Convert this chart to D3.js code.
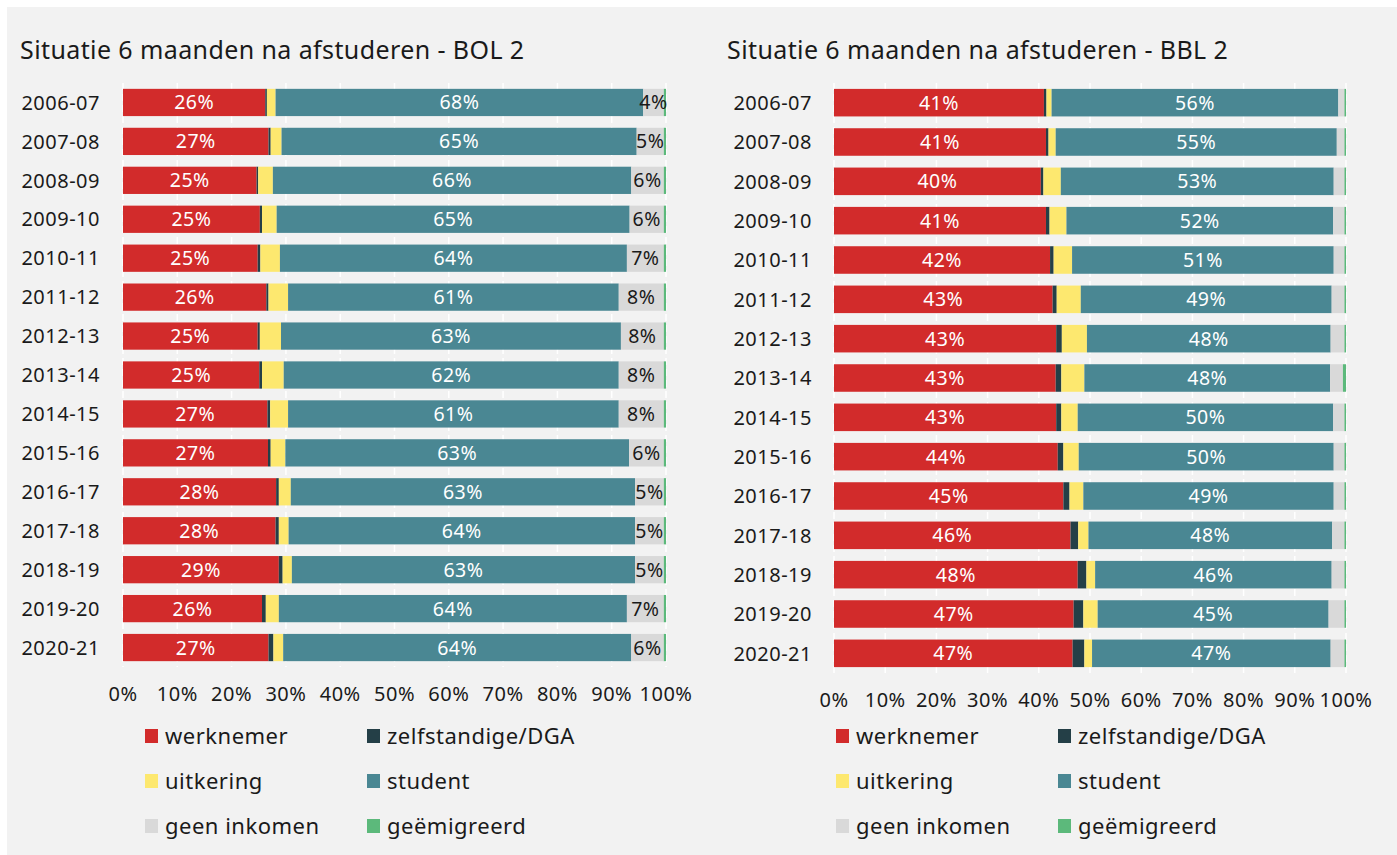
<!DOCTYPE html>
<html>
<head>
<meta charset="utf-8">
<script src="https://cdn.jsdelivr.net/npm/d3@7"></script>
<style>
  html, body { margin: 0; padding: 0; background: #ffffff; }
  svg { display: block; font-family: "Noto Sans", "Lato", sans-serif; letter-spacing: 0.5px; }
</style>
</head>
<body>
<svg id="chart"></svg>
<script>
// categories and series
const YEARS = ["2006-07", "2007-08", "2008-09", "2009-10", "2010-11", "2011-12", "2012-13", "2013-14",
  "2014-15", "2015-16", "2016-17", "2017-18", "2018-19", "2019-20", "2020-21"];
const SERIES = ["werknemer", "zelfstandige/DGA", "uitkering", "student", "geen inkomen", "geëmigreerd"];
const X_TICKS = [0, 10, 20, 30, 40, 50, 60, 70, 80, 90, 100];

// BOL 2 (%)
const BOL_WERKNEMER = [26.2, 26.8, 24.6, 25.2, 24.8, 26.4, 24.8, 25.1, 26.6, 26.7, 28.2, 28.1, 28.7, 25.6, 26.8];
const BOL_ZELFSTANDIGE = [0.3, 0.4, 0.3, 0.4, 0.5, 0.4, 0.4, 0.5, 0.5, 0.5, 0.5, 0.6, 0.7, 0.7, 0.9];
const BOL_UITKERING = [1.6, 2.0, 2.7, 2.7, 3.6, 3.6, 3.9, 4.0, 3.3, 2.7, 2.2, 1.8, 1.7, 2.4, 1.8];
const BOL_STUDENT = [67.7, 65.4, 66.0, 65.0, 63.9, 60.9, 62.6, 61.7, 60.9, 63.3, 63.4, 63.8, 63.2, 64.1, 64.1];
const BOL_GEEN_INKOMEN = [3.8, 5.0, 6.0, 6.3, 6.8, 8.3, 7.9, 8.3, 8.3, 6.4, 5.3, 5.3, 5.3, 6.8, 6.0];
const BOL_GEEMIGREERD = [0.4, 0.4, 0.4, 0.4, 0.4, 0.4, 0.4, 0.4, 0.4, 0.4, 0.4, 0.4, 0.4, 0.4, 0.4];

// BBL 2 (%)
const BBL_WERKNEMER = [41.0, 41.4, 40.4, 41.4, 42.2, 42.7, 43.4, 43.3, 43.4, 43.7, 44.8, 46.2, 47.6, 46.8, 46.6];
const BBL_ZELFSTANDIGE = [0.5, 0.5, 0.5, 0.7, 0.7, 0.8, 1.1, 1.1, 1.0, 1.1, 1.2, 1.5, 1.7, 1.9, 2.3];
const BBL_UITKERING = [1.0, 1.4, 3.4, 3.3, 3.6, 4.7, 4.9, 4.5, 3.2, 3.0, 2.7, 2.0, 1.7, 2.8, 1.5];
const BBL_STUDENT = [56.0, 54.9, 53.3, 52.1, 51.1, 49.0, 47.6, 48.0, 49.9, 49.8, 48.9, 47.6, 46.2, 45.1, 46.6];
const BBL_GEEN_INKOMEN = [1.2, 1.5, 2.1, 2.2, 2.1, 2.5, 2.7, 2.5, 2.2, 2.1, 2.1, 2.4, 2.5, 3.1, 2.7];
const BBL_GEEMIGREERD = [0.3, 0.3, 0.3, 0.3, 0.3, 0.3, 0.3, 0.6, 0.3, 0.3, 0.3, 0.3, 0.3, 0.3, 0.3];

const PALETTE = ["#d22b2b", "#243f47", "#fde86f", "#4a8793", "#d9d9d9", "#5cb97b"];
const LABELLED = ["werknemer", "student", "geen inkomen"];

function buildRows(columns) {
  return YEARS.map((year, i) => {
    const row = { year };
    SERIES.forEach((s, j) => (row[s] = columns[j][i]));
    return row;
  });
}

class StackedBarChart {
  constructor(svg, data, layout) {
    this.svg = svg;
    this.data = data;
    this.layout = layout;
    this.render();
  }
  render() {
    const { title, titleX, plot, tickY, catX, legend } = this.layout;
    const g = this.svg.append("g");

    const xScale = d3.scaleLinear().domain([0, 100]).range([plot.left, plot.right]);
    const yScale = d3
      .scaleBand()
      .domain(YEARS)
      .range([plot.top, plot.bottom])
      .paddingInner(0.3)
      .paddingOuter(0.15);
    const cScale = d3.scaleOrdinal().domain(SERIES).range(PALETTE);

    // title
    g.append("text")
      .attr("x", titleX)
      .attr("y", 59)
      .attr("font-size", 25)
      .attr("letter-spacing", 0.4)
      .attr("fill", "#1a1a1a")
      .text(title);

    // gridlines
    g.append("g")
      .selectAll("line")
      .data(X_TICKS)
      .join("line")
      .attr("x1", (d) => xScale(d))
      .attr("x2", (d) => xScale(d))
      .attr("y1", plot.top)
      .attr("y2", plot.bottom)
      .attr("stroke", "#ffffff")
      .attr("stroke-width", 1.5)
      .attr("stroke-dasharray", "7,4");

    // stacked bars
    const stacked = d3.stack().keys(SERIES)(this.data);
    const layers = g
      .append("g")
      .selectAll("g")
      .data(stacked)
      .join("g")
      .attr("fill", (d) => cScale(d.key));
    layers
      .selectAll("rect")
      .data((d) => d)
      .join("rect")
      .attr("x", (d) => xScale(d[0]))
      .attr("y", (d) => yScale(d.data.year))
      .attr("width", (d) => xScale(d[1]) - xScale(d[0]))
      .attr("height", yScale.bandwidth());

    // value labels
    const fmt = d3.format(".0f");
    stacked
      .filter((layer) => LABELLED.includes(layer.key))
      .forEach((layer) => {
        g.append("g")
          .selectAll("text")
          .data(layer.filter((d) => d[1] - d[0] >= 3.5))
          .join("text")
          .attr("x", (d) => xScale((d[0] + d[1]) / 2))
          .attr("y", (d) => yScale(d.data.year) + yScale.bandwidth() / 2)
          .attr("dy", "0.36em")
          .attr("text-anchor", "middle")
          .attr("font-size", 19.5)
          .attr("fill", layer.key === "geen inkomen" ? "#1a1a1a" : "#ffffff")
          .text((d) => fmt(d[1] - d[0]) + "%");
      });

    // category labels
    g.append("g")
      .selectAll("text")
      .data(YEARS)
      .join("text")
      .attr("x", catX)
      .attr("y", (d) => yScale(d) + yScale.bandwidth() / 2)
      .attr("dy", "0.36em")
      .attr("text-anchor", "end")
      .attr("font-size", 20)
      .attr("fill", "#1a1a1a")
      .text((d) => d);

    // x tick labels
    g.append("g")
      .selectAll("text")
      .data(X_TICKS)
      .join("text")
      .attr("x", (d) => xScale(d))
      .attr("y", tickY)
      .attr("text-anchor", "middle")
      .attr("font-size", 20)
      .attr("fill", "#1a1a1a")
      .text((d) => d + "%");

    // legend
    const items = g
      .append("g")
      .selectAll("g")
      .data(SERIES)
      .join("g")
      .attr("transform", (d, i) => `translate(${legend.cols[i % 2]}, ${legend.rows[Math.floor(i / 2)]})`);
    items
      .append("rect")
      .attr("x", 0)
      .attr("y", -7)
      .attr("width", 13)
      .attr("height", 14)
      .attr("fill", (d) => cScale(d));
    items
      .append("text")
      .attr("x", 20)
      .attr("y", 0)
      .attr("dy", "0.35em")
      .attr("font-size", 22)
      .attr("fill", "#1a1a1a")
      .text((d) => d);
  }
}

function main() {
  const svg = d3.select("#chart").attr("width", 1397).attr("height", 855);
  svg.append("rect").attr("x", 7).attr("y", 7).attr("width", 1390).attr("height", 848).attr("fill", "#f2f2f2");

  const bol = buildRows([BOL_WERKNEMER, BOL_ZELFSTANDIGE, BOL_UITKERING, BOL_STUDENT, BOL_GEEN_INKOMEN, BOL_GEEMIGREERD]);
  const bbl = buildRows([BBL_WERKNEMER, BBL_ZELFSTANDIGE, BBL_UITKERING, BBL_STUDENT, BBL_GEEN_INKOMEN, BBL_GEEMIGREERD]);

  new StackedBarChart(svg, bol, {
    title: "Situatie 6 maanden na afstuderen - BOL 2",
    titleX: 20,
    plot: { left: 123, right: 666, top: 83, bottom: 667 },
    tickY: 701,
    catX: 100,
    legend: { cols: [145, 367], rows: [736, 781, 826] },
  });
  new StackedBarChart(svg, bbl, {
    title: "Situatie 6 maanden na afstuderen - BBL 2",
    titleX: 727,
    plot: { left: 834, right: 1346, top: 83, bottom: 673 },
    tickY: 707,
    catX: 812,
    legend: { cols: [836, 1058], rows: [736, 781, 826] },
  });
}

main();
</script>
</body>
</html>
